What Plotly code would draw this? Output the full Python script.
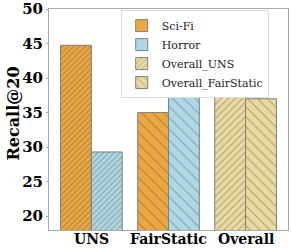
import plotly.graph_objects as go

groups = ["UNS", "FairStatic", "Overall"]
genre_methods = ["UNS", "FairStatic"]
scifi = [44.75, 35.0]
horror = [29.3, 43.0]
overall_labels = ["Overall_UNS", "Overall_FairStatic"]
overall_vals = [40.1, 37.0]
yticks = [20, 25, 30, 35, 40, 45, 50]

ORANGE = "#EBA842"
BLUE = "#ADD8E6"
KHAKI = "#E8DAA0"
EDGE = "#7f7f7f"
HATCH = "rgba(70,60,40,0.75)"

fig = go.Figure()

# legend-only entries (solid swatches)
for name, col in [("Sci-Fi", ORANGE), ("Horror", BLUE)]:
    fig.add_trace(go.Bar(x=[None], y=[None], name=name,
                         marker=dict(color=col, line=dict(color=EDGE, width=1)),
                         showlegend=True))

fig.add_trace(go.Bar(x=genre_methods, y=scifi, name="Sci-Fi", offset=-0.4, width=0.4,
                     showlegend=False,
                     marker=dict(color=ORANGE, line=dict(color=EDGE, width=1),
                                 pattern=dict(shape=["/", "\\"], size=[4, 8], solidity=[0.25, 0.13],
                                              fgcolor=HATCH, fillmode="overlay"))))
fig.add_trace(go.Bar(x=genre_methods, y=horror, name="Horror", offset=0, width=0.4,
                     showlegend=False,
                     marker=dict(color=BLUE, line=dict(color=EDGE, width=1),
                                 pattern=dict(shape=["/", "\\"], size=[4, 8], solidity=[0.25, 0.13],
                                              fgcolor=HATCH, fillmode="overlay"))))
fig.add_trace(go.Bar(x=["Overall"], y=[overall_vals[0]], name=overall_labels[0], offset=-0.4, width=0.4,
                     marker=dict(color=KHAKI, line=dict(color=EDGE, width=1),
                                 pattern=dict(shape="/", size=5, solidity=0.2,
                                              fgcolor=HATCH, fillmode="overlay"))))
fig.add_trace(go.Bar(x=["Overall"], y=[overall_vals[1]], name=overall_labels[1], offset=0, width=0.4,
                     marker=dict(color=KHAKI, line=dict(color=EDGE, width=1),
                                 pattern=dict(shape="\\", size=7, solidity=0.15,
                                              fgcolor=HATCH, fillmode="overlay"))))

annotations = [dict(text="Recall@20", xref="paper", yref="paper",
                    x=-0.1485, y=0.525, xanchor="center", yanchor="middle",
                    textangle=-90, showarrow=False,
                    font=dict(family="DejaVu Serif", size=16, weight="bold", color="black"))]
for g in groups:
    annotations.append(dict(text=g, xref="x", yref="paper", x=g, y=0,
                            xanchor="center", yanchor="top", yshift=1, showarrow=False,
                            font=dict(family="DejaVu Serif", size=14, weight="bold", color="black")))

fig.update_layout(
    width=291, height=249,
    margin=dict(l=49, r=3, t=9, b=19, autoexpand=False),
    barmode="overlay",
    plot_bgcolor="white", paper_bgcolor="white",
    font=dict(family="DejaVu Serif", color="black"),
    showlegend=True,
    legend=dict(x=0.30, y=0.995, xanchor="left", yanchor="top",
                bgcolor="white", bordercolor="#dddddd", borderwidth=1,
                font=dict(family="DejaVu Serif", size=11, color="#222222"),
                tracegroupgap=0),
    xaxis=dict(type="category", categoryorder="array", categoryarray=groups,
               range=[-0.55, 2.55], showgrid=False, ticks="", automargin=False,
               showticklabels=False,
               showline=True, linecolor="#aaaaaa", linewidth=1, mirror=True),
    yaxis=dict(range=[18, 50], tickvals=yticks, showgrid=False, automargin=False,
               ticks="outside", ticklen=2, tickcolor="#aaaaaa",
               showline=True, linecolor="#aaaaaa", linewidth=1, mirror=True,
               zeroline=False,
               tickfont=dict(family="DejaVu Serif", size=15, weight="bold")),
    annotations=annotations,
)

fig.write_html("out.html", config={"displayModeBar": False},
               post_script="document.body.style.margin='0px';")
